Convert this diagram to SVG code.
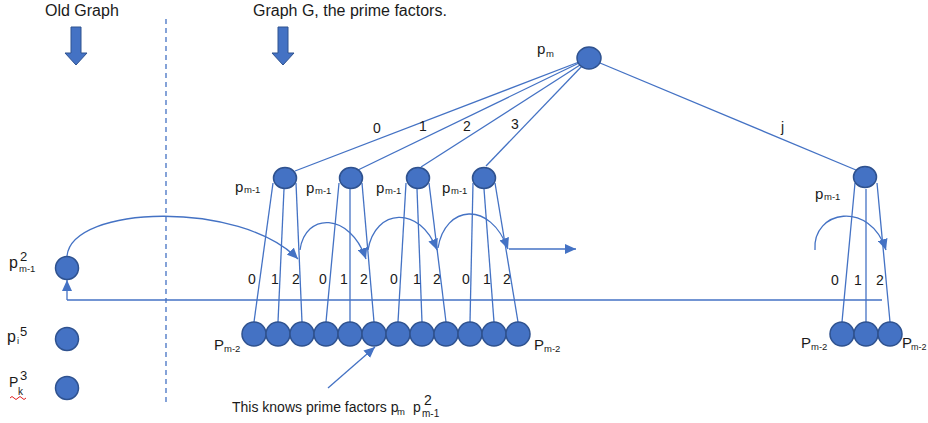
<svg xmlns="http://www.w3.org/2000/svg" width="928" height="423" viewBox="0 0 928 423">
<style>
.n{fill:#4472C4;stroke:#2F528F;stroke-width:1.5}
.e{stroke:#4472C4;stroke-width:1.3;fill:none}
.a{stroke:#4472C4;stroke-width:1.3;fill:none;marker-end:url(#ah)}
.t{font-family:"Liberation Sans",Arial,sans-serif;fill:#1a1a1a}
.big{font-size:16px}
.p{font-size:15px}
.s{font-size:9.5px}
.d{font-size:14px}
.blk{fill:#4472C4;stroke:#2F528F;stroke-width:1}
</style>
<defs>
<marker id="ah" markerUnits="userSpaceOnUse" markerWidth="12" markerHeight="10" refX="11" refY="5" orient="auto">
<path d="M0,0 L11,5 L0,10 z" fill="#4472C4"/>
</marker>
</defs>
<rect width="928" height="423" fill="#fff"/>

<g id="titles">
<text class="t big" x="45" y="16">Old Graph</text>
<polygon class="blk" points="71,27 81,27 81,53 87,53 76,65 65,53 71,53"/>
<text class="t big" x="253" y="16">Graph G, the prime factors.</text>
<polygon class="blk" points="278,27 288,27 288,53 294,53 283,65 272,53 278,53"/>
<line x1="166" y1="19" x2="166" y2="406" stroke="#4472C4" stroke-width="1.3" stroke-dasharray="5,4"/>
</g>

<g id="connectors">
<line class="e" x1="579" y1="62" x2="295" y2="171"/>
<line class="e" x1="579" y1="63" x2="358" y2="170"/>
<line class="e" x1="580" y1="65" x2="421" y2="167"/>
<line class="e" x1="582" y1="66" x2="486" y2="166"/>
<line class="e" x1="600" y1="63" x2="856" y2="170"/>
<line class="e" x1="273" y1="183" x2="254" y2="322"/>
<line class="e" x1="284" y1="189" x2="278" y2="322"/>
<line class="e" x1="296" y1="183" x2="302" y2="322"/>
<line class="e" x1="339" y1="183" x2="326" y2="322"/>
<line class="e" x1="350" y1="189" x2="350" y2="322"/>
<line class="e" x1="362" y1="183" x2="374" y2="322"/>
<line class="e" x1="406" y1="183" x2="398" y2="322"/>
<line class="e" x1="417" y1="189" x2="422" y2="322"/>
<line class="e" x1="429" y1="183" x2="446" y2="322"/>
<line class="e" x1="473" y1="183" x2="470" y2="322"/>
<line class="e" x1="484" y1="189" x2="494" y2="322"/>
<line class="e" x1="495" y1="183" x2="518" y2="322"/>
<line class="e" x1="855" y1="183" x2="842" y2="322"/>
<line class="e" x1="866" y1="189" x2="866" y2="322"/>
<line class="e" x1="877" y1="183" x2="890" y2="322"/>
<line class="e" x1="67" y1="300" x2="882" y2="300"/>
<line class="a" x1="67" y1="300" x2="67" y2="280"/>
<path class="a" d="M67,256 C72,205 240,200 298,259"/>
<path class="a" d="M300,250 C305,212 350,212 366,259"/>
<path class="a" d="M368,250 C375,208 420,205 437,250"/>
<path class="a" d="M438,248 C445,205 490,200 508,249"/>
<line class="a" x1="509" y1="249" x2="576" y2="249"/>
<path class="a" d="M815,250 C812,210 870,200 886,250"/>
<line class="a" x1="328" y1="388" x2="375" y2="347"/>
</g>

<g id="edge-labels" class="t d">
<text x="373" y="133">0</text>
<text x="419" y="131">1</text>
<text x="463" y="131">2</text>
<text x="511" y="129">3</text>
<text x="781" y="132">j</text>
<text x="248" y="284">0</text><text x="271" y="284">1</text><text x="292" y="284">2</text>
<text x="319" y="284">0</text><text x="340" y="284">1</text><text x="360" y="284">2</text>
<text x="390" y="284">0</text><text x="413" y="284">1</text><text x="433" y="284">2</text>
<text x="462" y="284">0</text><text x="483" y="284">1</text><text x="503" y="284">2</text>
<text x="831" y="285">0</text><text x="854" y="285">1</text><text x="876" y="285">2</text>
</g>

<g id="node-pm">
<ellipse class="n" cx="589" cy="58" rx="12" ry="11"/>
<text class="t p" x="537" y="54">p</text><text class="t s" x="546" y="57">m</text>
</g>

<g id="node-pm1-a">
<ellipse class="n" cx="285" cy="178" rx="11.5" ry="10.5"/>
<text class="t p" x="235" y="192">p</text><text class="t s" x="244" y="193">m-1</text>
</g>
<g id="node-pm1-b">
<ellipse class="n" cx="351" cy="178" rx="11.5" ry="10.5"/>
<text class="t p" x="306" y="193">p</text><text class="t s" x="315" y="194">m-1</text>
</g>
<g id="node-pm1-c">
<ellipse class="n" cx="418" cy="178" rx="11.5" ry="10.5"/>
<text class="t p" x="376" y="193">p</text><text class="t s" x="385" y="194">m-1</text>
</g>
<g id="node-pm1-d">
<ellipse class="n" cx="484" cy="178" rx="11.5" ry="10.5"/>
<text class="t p" x="442" y="193">p</text><text class="t s" x="451" y="194">m-1</text>
</g>
<g id="node-pm1-j">
<ellipse class="n" cx="865" cy="177" rx="11.5" ry="10.5"/>
<text class="t p" x="815" y="199">p</text><text class="t s" x="824" y="200">m-1</text>
</g>

<g id="level2-left">
<circle class="n" cx="254" cy="334" r="12"/>
<circle class="n" cx="278" cy="334" r="12"/>
<circle class="n" cx="302" cy="334" r="12"/>
<circle class="n" cx="326" cy="334" r="12"/>
<circle class="n" cx="350" cy="334" r="12"/>
<circle class="n" cx="374" cy="334" r="12"/>
<circle class="n" cx="398" cy="334" r="12"/>
<circle class="n" cx="422" cy="334" r="12"/>
<circle class="n" cx="446" cy="334" r="12"/>
<circle class="n" cx="470" cy="334" r="12"/>
<circle class="n" cx="494" cy="334" r="12"/>
<circle class="n" cx="518" cy="334" r="12"/>
<text class="t p" x="214" y="350">P</text><text class="t s" x="224" y="352">m-2</text>
<text class="t p" x="534" y="350">P</text><text class="t s" x="544" y="352">m-2</text>
</g>

<g id="level2-right">
<circle class="n" cx="842" cy="334" r="12"/>
<circle class="n" cx="866" cy="334" r="12"/>
<circle class="n" cx="890" cy="334" r="12"/>
<text class="t p" x="801" y="348">P</text><text class="t s" x="811" y="350">m-2</text>
<text class="t p" x="902" y="348">P</text><text class="t" style="font-size:9px" x="911" y="350">m-2</text>
</g>

<g id="old-pm1">
<circle class="n" cx="67" cy="268" r="11.5"/>
<text class="t" style="font-size:16px" x="9" y="268">p</text>
<text class="t" style="font-size:13px" x="20" y="261">2</text>
<text class="t s" x="19" y="272">m-1</text>
</g>
<g id="old-pi">
<circle class="n" cx="67" cy="339" r="11.5"/>
<text class="t" style="font-size:16px" x="7" y="342">p</text>
<text class="t" style="font-size:13px" x="20" y="336">5</text>
<text class="t s" x="17" y="344">i</text>
</g>
<g id="old-pk">
<circle class="n" cx="67" cy="388" r="11.5"/>
<text class="t" style="font-size:14px" x="9" y="387">P</text>
<text class="t" style="font-size:13px" x="20" y="380">3</text>
<text class="t" style="font-size:10px" x="18" y="395">k</text>
<path d="M10,398 q2,-3 4,0 t4,0 t4,0 t4,0" stroke="#e02020" stroke-width="1" fill="none"/>
</g>

<g id="note">
<text class="t" style="font-size:14px" x="232" y="412">This knows prime factors p</text>
<text class="t s" x="397" y="415">m</text>
<text class="t" style="font-size:14px" x="413" y="412">p</text>
<text class="t" style="font-size:14px" x="424" y="405">2</text>
<text class="t" style="font-size:10px" x="422" y="417">m-1</text>
</g>
</svg>
